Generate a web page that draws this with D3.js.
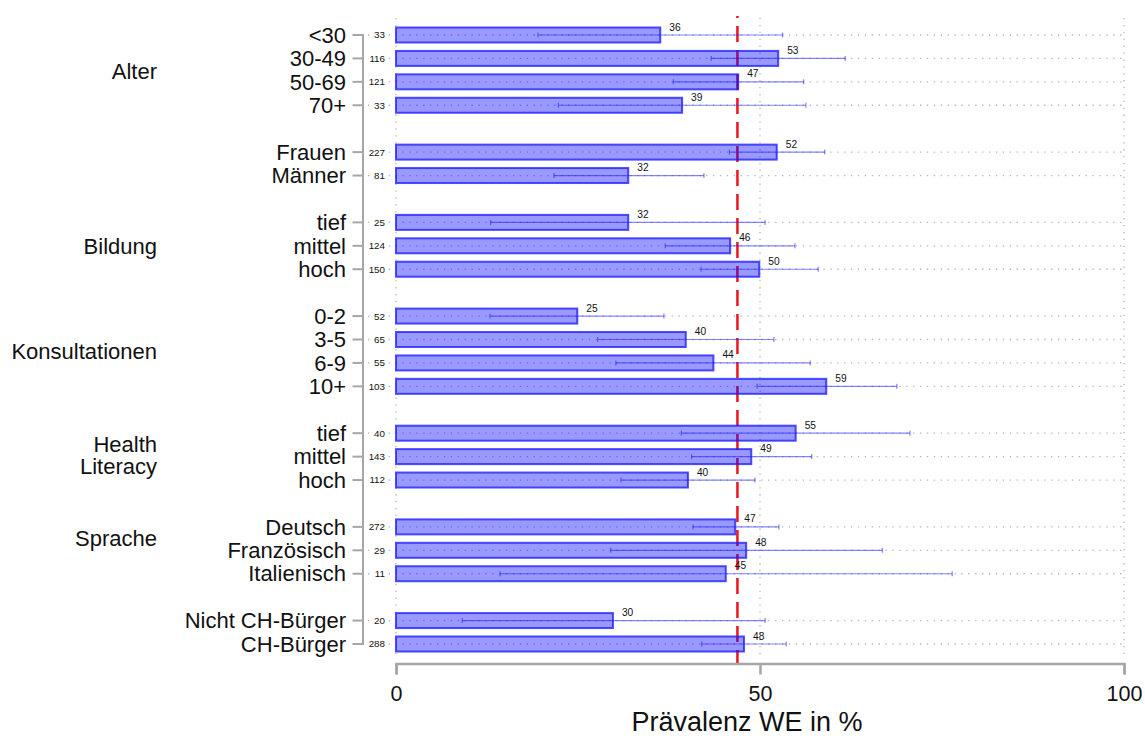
<!DOCTYPE html>
<html><head><meta charset="utf-8">
<script src="https://cdn.jsdelivr.net/npm/d3@7"></script>
<style>body{margin:0;background:#fff}svg{display:block}text{font-family:"Liberation Sans",Arial,sans-serif}</style>
</head><body>
<svg id="c" width="1145" height="738"></svg>
<script>
const categories = ["<30","30-49","50-69","70+","Frauen","Männer","tief","mittel","hoch","0-2","3-5","6-9","10+","tief","mittel","hoch","Deutsch","Französisch","Italienisch","Nicht CH-Bürger","CH-Bürger"];
const groupOf = ["Alter","Alter","Alter","Alter","Geschlecht","Geschlecht","Bildung","Bildung","Bildung","Konsultationen","Konsultationen","Konsultationen","Konsultationen","Health Literacy","Health Literacy","Health Literacy","Sprache","Sprache","Sprache","Nationalität","Nationalität"];
const prevalence = [36.3,52.5,47.0,39.3,52.3,31.9,31.9,45.9,49.9,24.9,39.8,43.6,59.1,54.9,48.8,40.1,46.6,48.1,45.3,29.8,47.8];
const ciLow  = [19.5,43.3,38.1,22.3,45.8,21.7,13.0,37.0,41.9,12.9,27.7,30.2,49.6,39.2,40.6,30.9,40.8,29.5,14.3,9.1,42.0];
const ciHigh = [53.1,61.7,56.0,56.3,58.9,42.3,50.7,54.8,58.0,36.8,51.9,56.9,68.8,70.6,57.1,49.3,52.6,66.8,76.4,50.7,53.6];
const nObs = [33,116,121,33,227,81,25,124,150,52,65,55,103,40,143,112,272,29,11,20,288];
const groupLabels = ["Alter","Bildung","Konsultationen","Health\nLiteracy","Sprache"];
const groupLabelRow = [1.55,9.02,13.5,17.93,21.5];
const overallMean = 46.9;
const xTicks = [0,50,100];

// slot index with a gap between groups
const slot = [];
let s = 0;
categories.forEach((c,i)=>{ if(i>0 && groupOf[i]!==groupOf[i-1]) s++; slot.push(s); s++; });
const nSlots = slot[slot.length-1];

const svg = d3.select("#c");
const x = d3.scaleLinear().domain([0,100]).range([396,1124]);
const y = d3.scaleLinear().domain([0,nSlots]).range([35,644]);
const grid = "#b4b4b4";

// vertical dotted gridlines
svg.append("g").selectAll("line").data(xTicks).join("line")
  .attr("x1",d=>x(d)).attr("x2",d=>x(d)).attr("y1",18).attr("y2",657)
  .attr("stroke",grid).attr("stroke-width",1.3).attr("stroke-dasharray","1.3 5.6");
// horizontal dotted gridlines
svg.append("g").selectAll("line").data(categories).join("line")
  .attr("x1",368).attr("x2",x(100)).attr("y1",(d,i)=>y(slot[i])).attr("y2",(d,i)=>y(slot[i]))
  .attr("stroke",grid).attr("stroke-width",1.3).attr("stroke-dasharray","1.3 5.6");

// reference line (overall mean)
svg.append("line").attr("x1",x(overallMean)).attr("x2",x(overallMean))
  .attr("y1",16).attr("y2",663).attr("stroke","#f0141e").attr("stroke-width",2.5)
  .attr("stroke-dasharray","16 8").attr("stroke-dashoffset",14);

// bars
svg.append("g").selectAll("rect").data(prevalence).join("rect")
  .attr("x",x(0)).attr("y",(d,i)=>y(slot[i])-7.5)
  .attr("width",d=>x(d)-x(0)).attr("height",15)
  .attr("fill","rgba(0,0,255,0.4)").attr("stroke","rgba(30,30,255,0.78)").attr("stroke-width",2);

// error bars
const eb = svg.append("g").attr("stroke","rgba(30,30,255,0.55)").attr("stroke-width",1.2);
categories.forEach((c,i)=>{
  const cy = y(slot[i]);
  eb.append("line").attr("x1",x(ciLow[i])).attr("x2",x(ciHigh[i])).attr("y1",cy).attr("y2",cy);
  [ciLow[i],ciHigh[i]].forEach(v=>eb.append("line").attr("x1",x(v)).attr("x2",x(v)).attr("y1",cy-2.5).attr("y2",cy+2.5));
});

// value labels
const fmt = d3.format(".0f");
svg.append("g").selectAll("text").data(prevalence).join("text")
  .attr("x",d=>x(d)+9).attr("y",(d,i)=>y(slot[i])-4.5)
  .attr("font-size",10.2).attr("fill","#111").text(d=>fmt(d));

// N labels
const nl = svg.append("g");
categories.forEach((c,i)=>{
  const cy = y(slot[i]);
  const t = nl.append("text").attr("x",385).attr("y",cy).attr("dy","0.35em")
    .attr("text-anchor","end").attr("font-size",9.8).attr("fill","#111").text(nObs[i]);
  const bb = t.node().getBBox();
  nl.insert("rect","text").attr("x",bb.x-1).attr("y",cy-3).attr("width",bb.width+1.5).attr("height",6).attr("fill","#fff");
});

// left axis
const axisCol = "#a6a6a6";
svg.append("line").attr("x1",363).attr("x2",363).attr("y1",y(0)).attr("y2",y(nSlots))
  .attr("stroke",axisCol).attr("stroke-width",2);
svg.append("g").selectAll("line").data(categories).join("line")
  .attr("x1",352.5).attr("x2",364).attr("y1",(d,i)=>y(slot[i])).attr("y2",(d,i)=>y(slot[i]))
  .attr("stroke",axisCol).attr("stroke-width",2);
svg.append("g").selectAll("text").data(categories).join("text")
  .attr("x",346).attr("y",(d,i)=>y(slot[i])).attr("dy","0.35em")
  .attr("text-anchor","end").attr("font-size",22).attr("fill","#111").text(d=>d);

// group labels (multi-line as one text element)
groupLabels.forEach((g,k)=>{
  const lines = g.split("\n");
  const cy = y(groupLabelRow[k]);
  const t = svg.append("text").attr("text-anchor","end").attr("font-size",22).attr("fill","#111");
  lines.forEach((ln,j)=>{
    t.append("tspan").attr("x",157).attr("y",cy + (j-(lines.length-1)/2)*22.3).attr("dy","0.35em").text(ln);
  });
});

// bottom axis
const xAxis = d3.axisBottom(x).tickValues(xTicks).tickSize(11).tickPadding(11).tickFormat(d3.format("d"));
const gx = svg.append("g").attr("transform","translate(0,663.5)").call(xAxis);
gx.select(".domain").attr("stroke",axisCol).attr("stroke-width",2.5);
gx.selectAll(".tick line").attr("stroke",axisCol).attr("stroke-width",2.5);
gx.selectAll(".tick text").attr("font-size",21.5).attr("fill","#111").attr("font-family","Liberation Sans, Arial, sans-serif");

svg.append("text").attr("x",x(50)-13).attr("y",731).attr("text-anchor","middle")
  .attr("font-size",27).attr("fill","#111").text("Prävalenz WE in %");
</script>
</body></html>
